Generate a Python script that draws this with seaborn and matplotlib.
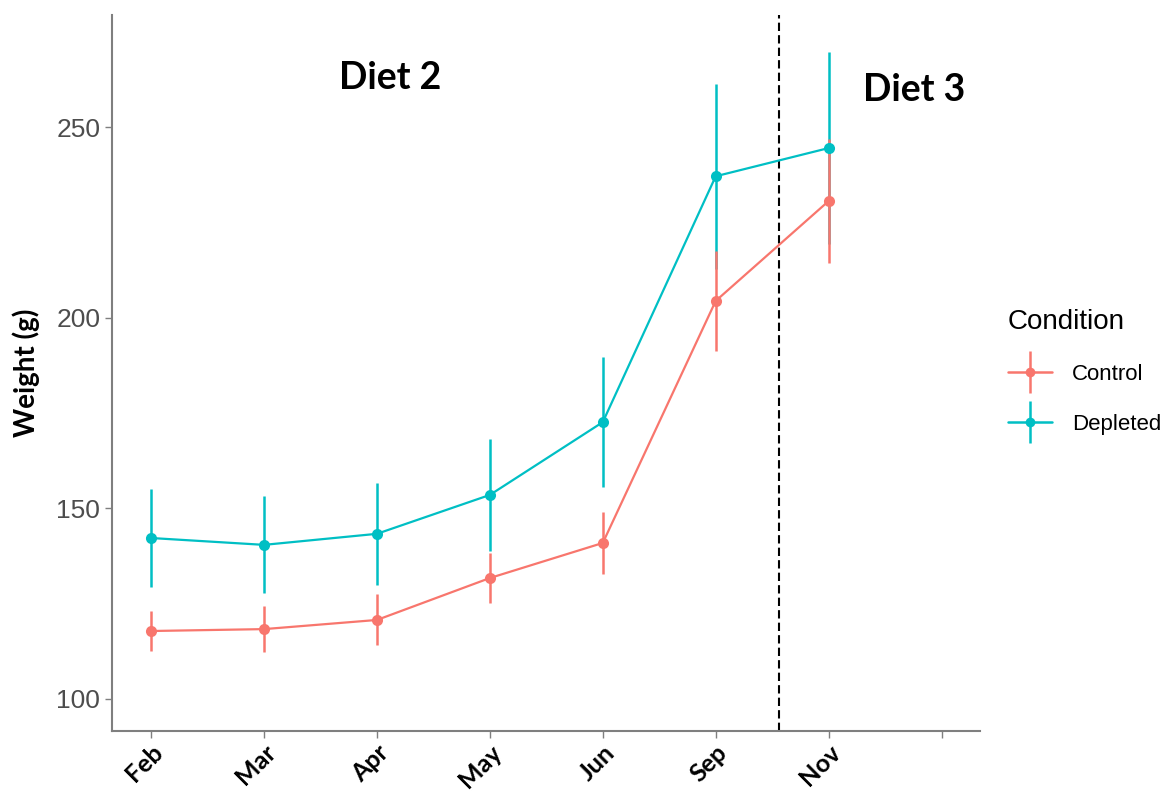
import numpy as np
import pandas as pd
import matplotlib
matplotlib.use("Agg")
import matplotlib.pyplot as plt
from matplotlib.lines import Line2D
from matplotlib.legend_handler import HandlerTuple
import seaborn as sns

# values
months = ["Feb", "Mar", "Apr", "May", "Jun", "Sep", "Nov"]
control_mean = [117.8, 118.3, 120.7, 131.7, 140.9, 204.4, 230.6]
control_err = [5.2, 6.1, 6.7, 6.6, 8.2, 13.2, 16.3]
depleted_mean = [142.2, 140.4, 143.3, 153.5, 172.6, 237.1, 244.5]
depleted_err = [12.9, 12.7, 13.3, 14.8, 17.0, 24.2, 25.2]
x_ticks = [1, 2, 3, 4, 5, 6, 7, 8]
x_labels = months + [""]
diet_break = 6.56

colors = {"Control": "#F8766D", "Depleted": "#00BFC4"}

pos = list(range(1, len(months) + 1))
df = pd.concat([
    pd.DataFrame({"pos": pos, "month": months, "weight": depleted_mean,
                  "err": depleted_err, "Condition": "Depleted"}),
    pd.DataFrame({"pos": pos, "month": months, "weight": control_mean,
                  "err": control_err, "Condition": "Control"}),
])

sns.set_style("white")
fig = plt.figure(figsize=(11.68, 7.91), dpi=100)
ax = fig.add_axes([0.096, 0.076, 0.743, 0.905])

for cond in ["Depleted", "Control"]:
    sub = df[df["Condition"] == cond]
    ax.errorbar(sub["pos"], sub["weight"], yerr=sub["err"], fmt="none",
                ecolor=colors[cond], elinewidth=1.8, capsize=0, zorder=2)
    sns.lineplot(data=sub, x="pos", y="weight", color=colors[cond], marker="o",
                 markersize=8, markeredgewidth=0, linewidth=1.6, ax=ax,
                 legend=False, zorder=3)

ax.axvline(diet_break, color="black", linestyle="--", linewidth=1.5, dashes=(4, 2))

bold_font = ["Lato", "DejaVu Sans"]
ax.text(3.12, 262.9, "Diet 2", fontsize=27, fontweight="bold", family=bold_font,
        ha="center", va="center", color="black")
ax.text(7.76, 259.7, "Diet 3", fontsize=27, fontweight="bold", family=bold_font,
        ha="center", va="center", color="black")

ax.set_xlim(0.655, 8.34)
ax.set_ylim(91.6, 279.4)
ax.set_xticks(x_ticks)
ax.set_xticklabels(x_labels, rotation=45, ha="right", rotation_mode="anchor",
                   fontsize=18, fontweight="bold", family=bold_font, color="black")
ax.set_yticks([100, 150, 200, 250])
ax.set_yticklabels(["100", "150", "200", "250"], fontsize=19,
                   family=["Liberation Sans", "DejaVu Sans"], color="#4d4d4d")
ax.set_xlabel("")
ax.set_ylabel("Weight (g)", fontsize=20, fontweight="bold", family=bold_font,
              color="black", labelpad=12)
ax.tick_params(axis="both", which="both", length=5, width=1, color="#7f7f7f",
               bottom=True, left=True)
ax.tick_params(axis="x", pad=2)

for side in ["top", "right"]:
    ax.spines[side].set_visible(False)
for side in ["left", "bottom"]:
    ax.spines[side].set_color("#7f7f7f")
    ax.spines[side].set_linewidth(1.5)

handles = []
for cond in ["Control", "Depleted"]:
    h1 = Line2D([], [], color=colors[cond], marker="o", markersize=7,
                markeredgewidth=0, linewidth=1.8)
    h2 = Line2D([], [], color=colors[cond], marker="|", markersize=30,
                markeredgewidth=1.8, linestyle="none")
    handles.append((h1, h2))

leg = fig.legend(handles, ["Control", "Depleted"], title="Condition",
                 handler_map={tuple: HandlerTuple(ndivide=1)},
                 loc="center left", bbox_to_anchor=(0.855, 0.53), frameon=False,
                 prop={"family": ["Liberation Sans", "DejaVu Sans"], "size": 16},
                 handlelength=2.0, handletextpad=0.9, labelspacing=1.3,
                 borderaxespad=0)
leg.get_title().set_fontsize(20)
leg.get_title().set_family(["Liberation Sans", "DejaVu Sans"])
leg.get_title().set_color("black")
for t in leg.get_texts():
    t.set_color("black")
leg._legend_box.align = "left"

fig.savefig("out.png", dpi=100)
